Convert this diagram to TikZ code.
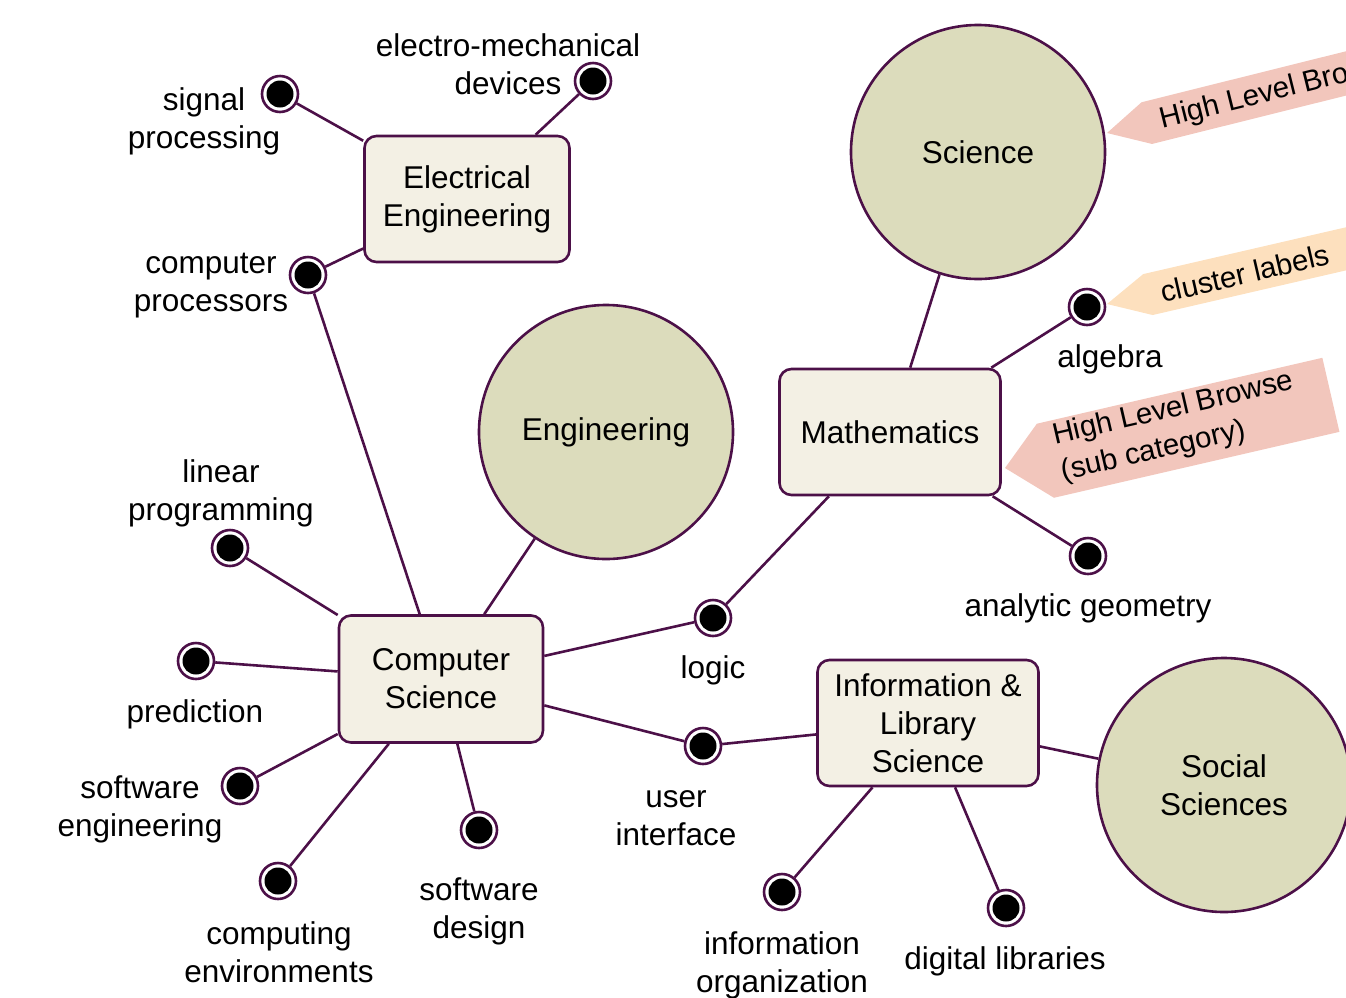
\documentclass[tikz,border=0pt]{standalone}
\usepackage{fontspec}
\setmainfont{Liberation Sans}
\definecolor{plum}{RGB}{76,16,72}
\definecolor{boxfill}{RGB}{243,240,228}
\definecolor{orbfill}{RGB}{220,220,188}
\definecolor{pinktag}{RGB}{242,198,188}
\definecolor{orangetag}{RGB}{253,224,190}
\begin{document}
\begin{tikzpicture}[x=1pt,y=1pt,
  every node/.style={font=\fontsize{31.5}{38}\selectfont},
  link/.style={draw=plum, line width=2.6pt},
  topic/.style={draw=plum, line width=2.6pt, fill=boxfill, rounded corners=12pt,
    align=center, inner sep=0pt},
  orb/.style={circle, draw=plum, line width=2.6pt, fill=orbfill, minimum size=254pt,
    align=center, inner sep=0pt},
  leaf/.style={circle, draw=plum, line width=2.6pt, fill=white, minimum size=36pt,
    inner sep=0pt, path picture={\fill[black] (path picture bounding box.center) circle (13.5pt);}},
  lbl/.style={align=center, inner sep=0pt},
  tagtext/.style={anchor=west, inner sep=0pt, align=left, transform shape,
    font=\fontsize{29.5}{37}\selectfont}]
\path[use as bounding box, clip] (0,0) rectangle (1346,-997);

% main topics
\node[topic, minimum width=205pt, minimum height=126pt] (ee) at (467,-199) {Electrical\\Engineering};
\node[topic, minimum width=204pt, minimum height=127pt] (cs) at (441,-679) {Computer\\Science};
\node[topic, minimum width=221pt, minimum height=126pt] (math) at (890,-432) {Mathematics};
\node[topic, minimum width=221pt, minimum height=126pt] (ils) at (928,-723) {Information \&\\Library\\Science};

% broad areas
\node[orb] (science) at (978,-152) {Science};
\node[orb] (eng) at (606,-432) {Engineering};
\node[orb] (social) at (1224,-785) {Social\\Sciences};

% leaf points
\node[leaf] (dsig) at (280,-94) {};
\node[leaf] (delec) at (593,-81) {};
\node[leaf] (dproc) at (308,-275) {};
\node[leaf] (dlin) at (230,-548) {};
\node[leaf] (dpred) at (196,-661) {};
\node[leaf] (dsweng) at (240,-786) {};
\node[leaf] (dcomp) at (278,-881) {};
\node[leaf] (dswdes) at (479,-830) {};
\node[leaf] (dlogic) at (713,-618) {};
\node[leaf] (dui) at (703,-746) {};
\node[leaf] (dalg) at (1087,-307) {};
\node[leaf] (dgeo) at (1088,-556) {};
\node[leaf] (dinfo) at (782,-892) {};
\node[leaf] (ddig) at (1006,-908) {};

% leaf labels
\node[lbl] (tsig) at (204,-121) {signal\\processing};
\node[lbl] (telec) at (508,-64) {electro-mechanical\\devices};
\node[lbl] (tproc) at (211,-286) {computer\\processors};
\node[lbl] (tlin) at (221,-493) {linear\\programming};
\node[lbl] (tpred) at (195,-714) {prediction};
\node[lbl] (tsweng) at (140,-809) {software\\engineering};
\node[lbl] (tcomp) at (279,-952) {computing\\environments};
\node[lbl] (tswdes) at (479,-911) {software\\design};
\node[lbl] (tlogic) at (713,-670) {logic};
\node[lbl] (tui) at (676,-818) {user\\interface};
\node[lbl] (talg) at (1110,-359) {algebra};
\node[lbl] (tgeo) at (1088,-608) {analytic geometry};
\node[lbl] (tinfo) at (782,-965) {information\\organization};
\node[lbl] (tdig) at (1005,-961) {digital libraries};

% connectors
\draw[link] (ee) -- (dsig);
\draw[link] (ee) -- (delec);
\draw[link] (ee) -- (dproc);
\draw[link] (dproc) -- (cs);
\draw[link] (eng) -- (cs);
\draw[link] (dlin) -- (cs);
\draw[link] (dpred) -- (cs);
\draw[link] (dsweng) -- (cs);
\draw[link] (dcomp) -- (cs);
\draw[link] (dswdes) -- (cs);
\draw[link] (cs) -- (dlogic);
\draw[link] (dlogic) -- (math);
\draw[link] (cs) -- (dui);
\draw[link] (dui) -- (ils);
\draw[link] (ils) -- (dinfo);
\draw[link] (ils) -- (ddig);
\draw[link] (ils) -- (social);
\draw[link] (math) -- (science);
\draw[link] (math) -- (dalg);
\draw[link] (math) -- (dgeo);

% callout tags
\begin{scope}[shift={(1107,-133)}, rotate=14]
  \fill[pinktag] (0,0) -- (41,21.5) -- (320,21.5) -- (320,-21.5) -- (41,-21.5) -- cycle;
  \node[tagtext] (tagtop) at (55,-1) {High Level Browse};
\end{scope}
\begin{scope}[shift={(1107,-304)}, rotate=13]
  \fill[orangetag] (0,0) -- (42,21) -- (320,21) -- (320,-21) -- (42,-21) -- cycle;
  \node[tagtext] (tagmid) at (55,-1) {cluster labels};
\end{scope}
\begin{scope}[shift={(1005,-468)}, rotate=13]
  \fill[pinktag] (0,0) -- (41,36) -- (334,36) -- (334,-40) -- (41,-40) -- cycle;
  \node[tagtext] (tagsub) at (54,1) {High Level Browse\\(sub category)};
\end{scope}
\end{tikzpicture}
\end{document}
